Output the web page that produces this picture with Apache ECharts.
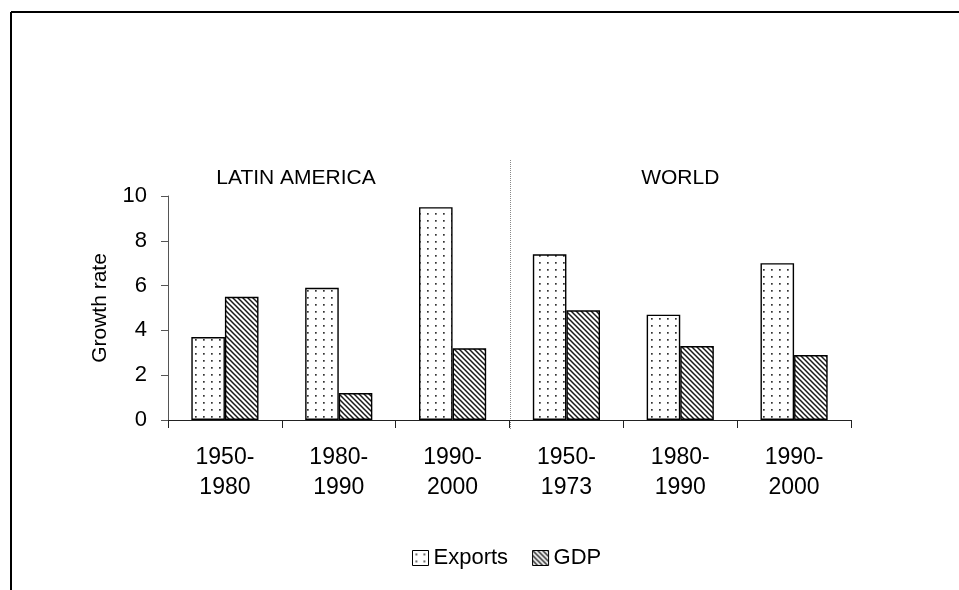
<!DOCTYPE html>
<html>
<head>
<meta charset="utf-8">
<script src="https://cdn.jsdelivr.net/npm/echarts@6/dist/echarts.min.js"></script>
<style>
html,body{margin:0;padding:0;background:#fff;}
#c{width:959px;height:590px;}
</style>
</head>
<body>
<div id="c"></div>
<script>
var categories = ['1950-\n1980','1980-\n1990','1990-\n2000','1950-\n1973','1980-\n1990','1990-\n2000'];
var exportsData = [3.7, 5.9, 9.5, 7.4, 4.7, 7.0];
var gdpData = [5.5, 1.2, 3.2, 4.9, 3.3, 2.9];
var seriesNames = ['Exports', 'GDP'];
var regionNames = ['LATIN AMERICA', 'WORLD'];

function dotPattern(){
  var c = document.createElement('canvas');
  c.width = 8; c.height = 7;
  var g = c.getContext('2d');
  g.fillStyle = '#fff'; g.fillRect(0,0,8,7);
  g.fillStyle = '#333';
  g.fillRect(3,3,1.7,1.7);
  return c;
}
function hatchPattern(){
  var s = 5;
  var c = document.createElement('canvas');
  c.width = s; c.height = s;
  var g = c.getContext('2d');
  g.fillStyle = '#fff'; g.fillRect(0,0,s,s);
  g.strokeStyle = '#1a1a1a'; g.lineWidth = 1.5;
  g.beginPath();
  g.moveTo(-1,-1); g.lineTo(s+1,s+1);
  g.moveTo(-1,s-1); g.lineTo(1,s+1);
  g.moveTo(s-1,-1); g.lineTo(s+1,1);
  g.stroke();
  return c;
}

var chart = echarts.init(document.getElementById('c'), null, {renderer:'canvas'});
var font = 'Liberation Sans, Arial, sans-serif';
var option = {
  animation: false,
  backgroundColor: '#fff',
  textStyle: {fontFamily: font},
  grid: {left: 168, right: 108, top: 196, bottom: 170},
  legend: {
    data: seriesNames,
    left: 412, top: 547, padding: 0,
    itemWidth: 16, itemHeight: 15, itemGap: 24,
    icon: 'rect',
    textStyle: {fontSize: 22, color: '#000', fontFamily: font},
    itemStyle: {borderColor: '#000', borderWidth: 1}
  },
  xAxis: {
    type: 'category',
    data: categories,
    axisLine: {lineStyle: {color: '#222', width: 1}},
    axisTick: {show: true, length: 8, lineStyle: {color: '#222'}},
    axisLabel: {fontSize: 23, color: '#000', lineHeight: 30, margin: 23, fontFamily: font}
  },
  yAxis: {
    type: 'value',
    min: 0, max: 10, interval: 2,
    name: 'Growth rate',
    nameLocation: 'middle',
    nameGap: 57,
    nameTextStyle: {fontSize: 21, color: '#000', fontFamily: font},
    axisLine: {show: true, lineStyle: {color: '#555', width: 1}},
    axisTick: {show: true, length: 7, lineStyle: {color: '#555'}},
    splitLine: {show: false},
    axisLabel: {fontSize: 22, color: '#000', margin: 21, fontFamily: font}
  },
  series: [
    {
      name: seriesNames[0], type: 'bar', data: exportsData,
      barGap: '0%', barCategoryGap: '41%',
      itemStyle: {color: {image: dotPattern(), repeat: 'repeat'}, borderColor: '#000', borderWidth: 1.4}
    },
    {
      name: seriesNames[1], type: 'bar', data: gdpData,
      barGap: '0%', barCategoryGap: '41%',
      itemStyle: {color: {image: hatchPattern(), repeat: 'repeat'}, borderColor: '#000', borderWidth: 1.4}
    }
  ]
};
chart.setOption(option);

var p2 = chart.convertToPixel({xAxisIndex: 0}, 2);
var p3 = chart.convertToPixel({xAxisIndex: 0}, 3);
var sepX = Math.round((p2 + p3) / 2) + 0.5;
var y0 = chart.convertToPixel({yAxisIndex: 0}, 0);
var pw = chart.convertToPixel({xAxisIndex: 0}, 4);

chart.setOption({
  graphic: [
    {type: 'line', shape: {x1: 11, y1: 12, x2: 959, y2: 12}, style: {stroke: '#000', lineWidth: 2}},
    {type: 'line', shape: {x1: 11, y1: 12, x2: 11, y2: 590}, style: {stroke: '#000', lineWidth: 2}},
    {type: 'line', shape: {x1: sepX, y1: 160, x2: sepX, y2: y0 + 10}, style: {stroke: '#888', lineWidth: 1, lineDash: [1, 1]}},
    {type: 'text', x: 296, y: 178, style: {text: regionNames[0], fontSize: 21, fill: '#000', fontFamily: font, textAlign: 'center', textVerticalAlign: 'middle'}},
    {type: 'text', x: pw, y: 178, style: {text: regionNames[1], fontSize: 21, fill: '#000', fontFamily: font, textAlign: 'center', textVerticalAlign: 'middle'}}
  ]
});
</script>
</body>
</html>
